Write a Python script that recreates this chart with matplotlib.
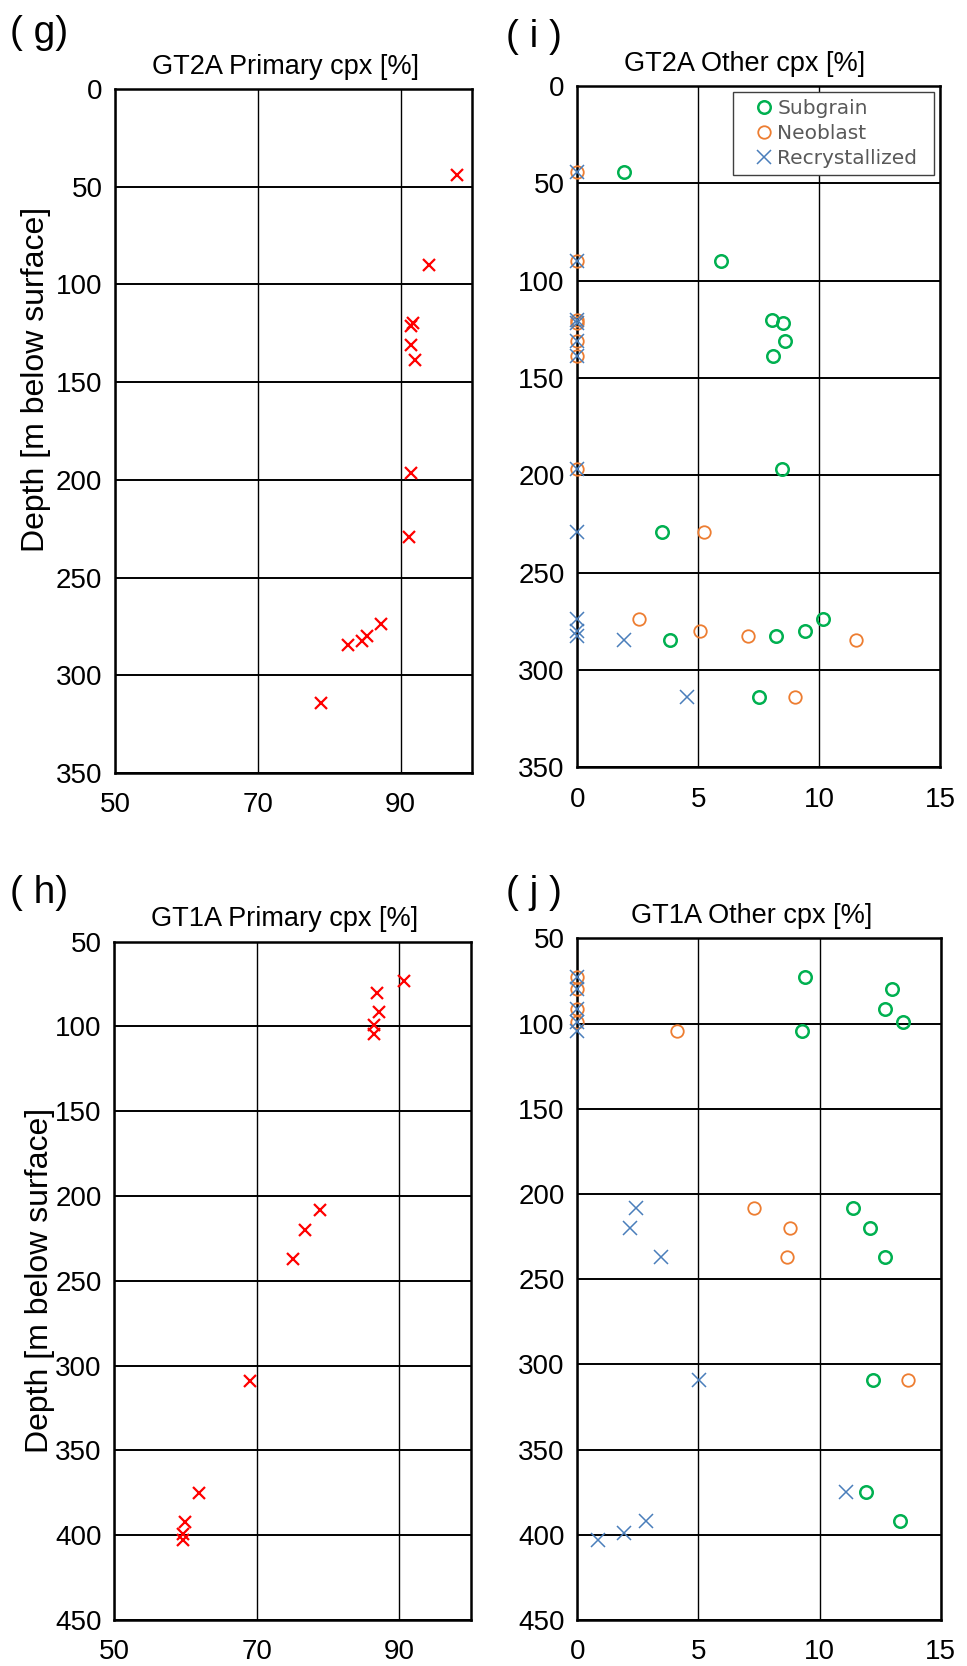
import numpy as np
import matplotlib
matplotlib.use('Agg')
import matplotlib.pyplot as plt
from matplotlib.lines import Line2D

plt.rcParams['font.family'] = ['Liberation Sans', 'DejaVu Sans']

nan = np.nan

# GT2A samples (depth in m below surface)
gt2a_depth = [44, 90, 120, 121.5, 131, 138.5, 196.5, 229, 274, 280, 282.5, 284.5, 314]
gt2a_primary = [97.9, 94.0, 91.8, 91.4, 91.4, 92.0, 91.5, 91.2, 87.2, 85.3, 84.6, 82.6, 78.9]
gt2a_subgrain = [1.94, 5.94, 8.07, 8.49, 8.6, 8.1, 8.45, 3.5, 10.18, 9.42, 8.22, 3.84, 7.51]
gt2a_neoblast = [0, 0, 0, 0, 0, 0, 0, 5.26, 2.54, 5.06, 7.04, 11.52, 9.01]
gt2a_recryst = [0, 0, 0, 0, 0, 0, 0, 0, 0, 0, 0, 1.92, 4.52]

# GT1A samples
gt1a_depth = [73, 80, 91.5, 99, 104.3, 208.5, 220, 237, 309, 375, 392, 399, 403]
gt1a_primary = [90.6, 86.9, 87.2, 86.4, 86.5, 78.8, 76.8, 75.1, 69.0, 61.9, 59.9, 59.7, 59.6]
gt1a_subgrain = [9.38, 12.99, 12.7, 13.43, 9.27, 11.38, 12.08, 12.71, 12.22, 11.9, 13.33, nan, nan]
gt1a_neoblast = [0, 0, 0, 0, 4.12, 7.3, 8.78, 8.67, 13.67, nan, nan, nan, nan]
gt1a_recryst = [0, 0, 0, 0, 0, 2.41, 2.18, 3.46, 5.03, 11.1, 2.85, 1.94, 0.87]

primary_ticks = [50, 70, 90]
other_ticks = [0, 5, 10, 15]
gt2a_yticks = [0, 50, 100, 150, 200, 250, 300, 350]
gt1a_yticks = [50, 100, 150, 200, 250, 300, 350, 400, 450]

colors = {'primary': '#ff0000', 'subgrain': '#00b050',
          'neoblast': '#ed7d31', 'recryst': '#4a7ebb'}

fig = plt.figure(figsize=(9.67, 16.66), dpi=100)

ax_g = fig.add_axes([0.1189, 0.536, 0.3692, 0.4106])
ax_i = fig.add_axes([0.597, 0.5394, 0.3751, 0.4090])
ax_h = fig.add_axes([0.1182, 0.0276, 0.3686, 0.4072])
ax_j = fig.add_axes([0.597, 0.0276, 0.3758, 0.4092])


def style_axes(ax, xlim, xticks, ylim, yticks, title, title_x):
    ax.set_xlim(*xlim)
    ax.set_ylim(ylim[1], ylim[0])
    ax.set_xticks(xticks)
    ax.set_yticks(yticks)
    ax.tick_params(length=0, labelsize=20)
    ax.tick_params(axis='y', pad=9)
    ax.tick_params(axis='x', pad=14)
    for s in ax.spines.values():
        s.set_linewidth(1.8)
        s.set_color('black')
    ax.xaxis.grid(True, color='black', linewidth=1.0)
    ax.yaxis.grid(True, color='black', linewidth=1.4)
    ax.set_axisbelow(True)
    ax.set_title(title, fontsize=19.5, pad=11, x=title_x)


def plot_primary(ax, x, depth):
    ax.plot(x, depth, linestyle='none', marker='x', color=colors['primary'],
            markersize=9, markeredgewidth=1.6, clip_on=False, zorder=3)


def plot_other(ax, sub, neo, rec, depth):
    ax.plot(sub, depth, linestyle='none', marker='o', markerfacecolor='none',
            markeredgecolor=colors['subgrain'], markersize=9, markeredgewidth=1.8,
            clip_on=False, zorder=3)
    ax.plot(neo, depth, linestyle='none', marker='o', markerfacecolor='none',
            markeredgecolor=colors['neoblast'], markersize=9, markeredgewidth=1.3,
            clip_on=False, zorder=3)
    ax.plot(rec, depth, linestyle='none', marker='x', color=colors['recryst'],
            markersize=10, markeredgewidth=1.1, clip_on=False, zorder=4)


plot_primary(ax_g, gt2a_primary, gt2a_depth)
style_axes(ax_g, (50, 100), primary_ticks, (0, 350), gt2a_yticks,
           'GT2A Primary cpx [%]', 0.479)

plot_other(ax_i, gt2a_subgrain, gt2a_neoblast, gt2a_recryst, gt2a_depth)
style_axes(ax_i, (0, 15), other_ticks, (0, 350), gt2a_yticks,
           'GT2A Other cpx [%]', 0.46)

plot_primary(ax_h, gt1a_primary, gt1a_depth)
style_axes(ax_h, (50, 100), primary_ticks, (50, 450), gt1a_yticks,
           'GT1A Primary cpx [%]', 0.479)

plot_other(ax_j, gt1a_subgrain, gt1a_neoblast, gt1a_recryst, gt1a_depth)
style_axes(ax_j, (0, 15), other_ticks, (50, 450), gt1a_yticks,
           'GT1A Other cpx [%]', 0.48)

ax_g.set_ylabel('Depth [m below surface]', fontsize=23)
ax_g.yaxis.set_label_coords(-0.18, 0.575)
ax_h.set_ylabel('Depth [m below surface]', fontsize=23)
ax_h.yaxis.set_label_coords(-0.166, 0.5)

# legend in panel (i)
handles = [
    Line2D([], [], linestyle='none', marker='o', markerfacecolor='none',
           markeredgecolor=colors['subgrain'], markersize=9, markeredgewidth=1.8),
    Line2D([], [], linestyle='none', marker='o', markerfacecolor='none',
           markeredgecolor=colors['neoblast'], markersize=9, markeredgewidth=1.3),
    Line2D([], [], linestyle='none', marker='x', color=colors['recryst'],
           markersize=10, markeredgewidth=1.1),
]
leg = ax_i.legend(handles, ['Subgrain', 'Neoblast', 'Recrystallized'],
                  loc='upper left', bbox_to_anchor=(0.429, 0.0, 0.554, 0.991),
                  mode='expand', frameon=True, fancybox=False, framealpha=1,
                  handletextpad=-0.55, handlelength=2.4, borderpad=0.35,
                  borderaxespad=0, labelspacing=0.3,
                  prop={'family': 'DejaVu Sans', 'size': 14.5})
leg.get_frame().set_edgecolor('#404040')
leg.get_frame().set_linewidth(1.0)
for t in leg.get_texts():
    t.set_color('#595959')

# panel letters
fig.text(0.010, 0.980, '( g)', fontsize=28, va='center')
fig.text(0.523, 0.978, '( i )', fontsize=28, va='center')
fig.text(0.010, 0.464, '( h)', fontsize=28, va='center')
fig.text(0.523, 0.464, '( j )', fontsize=28, va='center')

fig.savefig('out.png', dpi=100)
